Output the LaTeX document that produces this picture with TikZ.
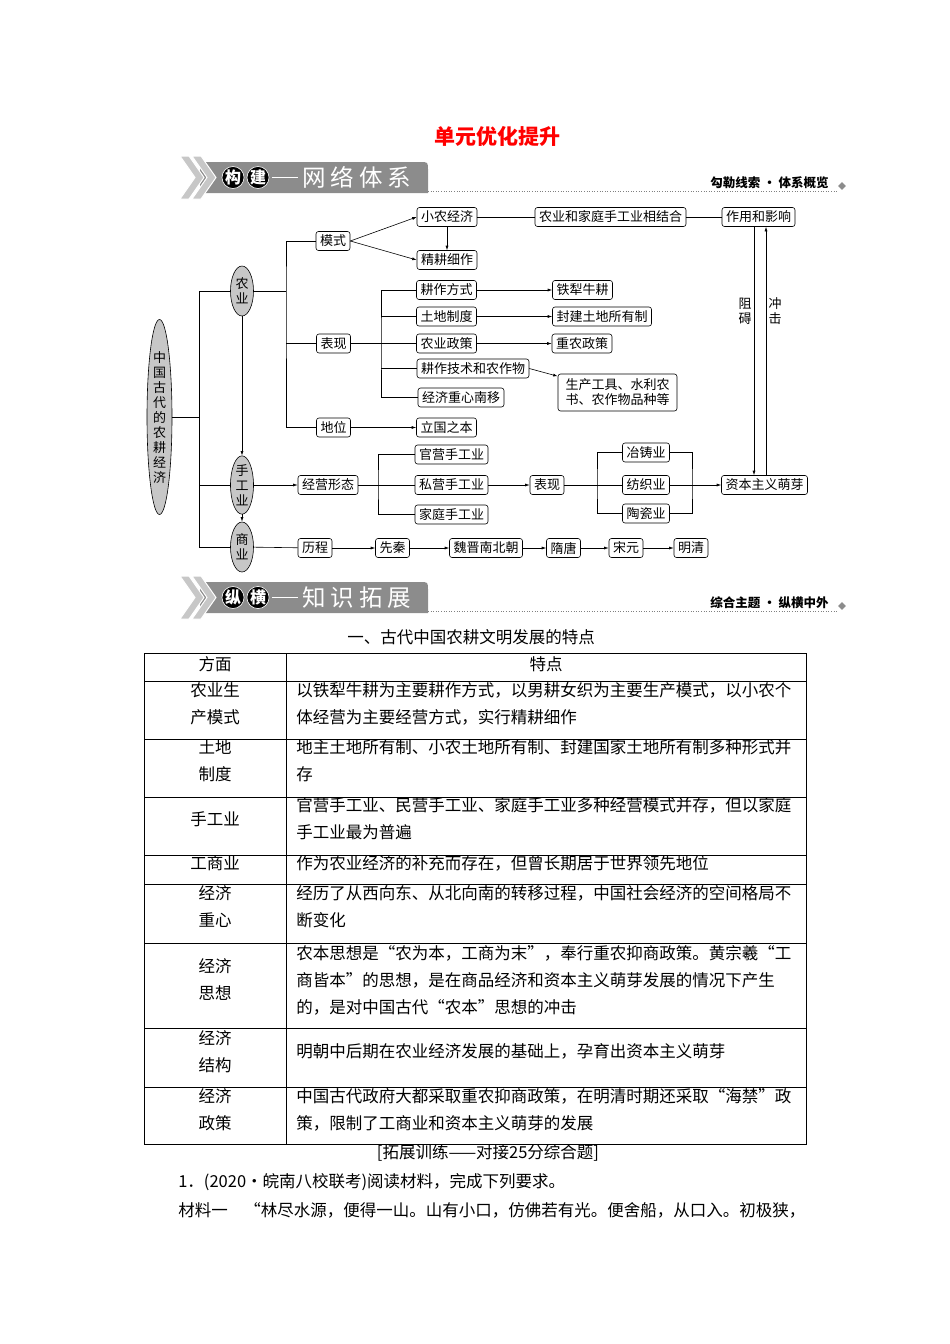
\documentclass[tikz,border=0pt]{standalone}
\usepackage{fontspec}
\setmainfont{Noto Sans CJK SC}
\usetikzlibrary{arrows.meta,shapes.geometric}

\newcommand\dfont{\fontsize{13}{15}\selectfont}
\newcommand\tfont{\fontsize{16.5}{27}\selectfont}

\begin{document}
\begin{tikzpicture}[x=1pt,y=-1pt,line width=.6pt,
  box/.style={draw,rounded corners=2.5pt,font=\dfont,inner xsep=4pt,inner ysep=0pt,minimum height=19pt},
  oval/.style={ellipse,draw,fill=black!22,font=\dfont,align=center,inner sep=0pt,minimum width=23pt},
  arr/.style={-{Latex[length=4.5pt,width=3pt]}},
  lbl/.style={font=\dfont,align=center,inner sep=0pt},
  cell/.style={font=\tfont,align=center,inner sep=0pt},
  celltxt/.style={font=\tfont,align=left,anchor=west,inner sep=0pt},
  hdrgray/.style={fill=black!45}]
\useasboundingbox (0,0) rectangle (950,1344);

\node[font=\bfseries\fontsize{21}{21}\selectfont,text=red] (title) at (497,136) {单元优化提升};

% header bars
\foreach \y/\ca/\cb/\ttl/\rt in {162/构/建/网\hspace{5pt}络\hspace{5pt}体\hspace{5pt}系/勾勒线索\ ·\ 体系概览,
                                  582/纵/横/知\hspace{5pt}识\hspace{5pt}拓\hspace{5pt}展/综合主题\ ·\ 纵横中外}{
  \fill[hdrgray] (200,\y) -- (420,\y) .. controls (428,\y) .. (428,\y+8) -- (428,\y+31) -- (200,\y+31) -- cycle;
  \foreach \cx in {180,192}
    \filldraw[fill=black!22,draw=white,line width=1pt] (\cx,\y-6) -- (\cx+9,\y-6) -- (\cx+24,\y+15.5)
      -- (\cx+9,\y+37) -- (\cx,\y+37) -- (\cx+15,\y+15.5) -- cycle;
  \node[circle,fill=black,draw=white,text=white,inner sep=0pt,minimum size=21pt,font=\bfseries\fontsize{16}{16}\selectfont] (ca\y) at (233,\y+15.5) {\ca};
  \node[circle,fill=black,draw=white,text=white,inner sep=0pt,minimum size=21pt,font=\bfseries\fontsize{16}{16}\selectfont] (cb\y) at (258,\y+15.5) {\cb};
  \draw[white,line width=1.2pt] (cb\y.east) ++(3,0) -- ++(26,0);
  \node[anchor=west,text=white,inner sep=0pt,font=\fontsize{23.5}{23.5}\selectfont] (tt\y) at (302,\y+15.5) {\ttl};
  \draw[dotted,black!50] (428,\y+29) -- (838,\y+29);
  \node[anchor=east,inner sep=0pt,font=\bfseries\fontsize{12.5}{13}\selectfont] (rt\y) at (829,\y+21) {\rt};
  \node[diamond,fill=black!45,inner sep=0pt,minimum size=8pt] (dm\y) at (842,\y+24) {};
}

% mind map
\node[oval,minimum width=25pt,minimum height=195pt,inner sep=1pt] (root) at (159.5,417) {中\\国\\古\\代\\的\\农\\耕\\经\\济};
\node[oval,minimum height=50pt] (nong) at (242,291) {农\\业};
\node[oval,minimum height=56pt] (shou) at (242,485) {手\\工\\业};
\node[oval,minimum height=50pt] (shang) at (242,547) {商\\业};

\node[box] (moshi) at (333,241) {模式};
\node[box] (xiaonong) at (447,217) {小农经济};
\node[box] (jinggeng) at (447,260) {精耕细作};
\node[box,minimum width=151pt] (jiehe) at (610.5,217) {农业和家庭手工业相结合};
\node[box] (zuoyong) at (758.5,217) {作用和影响};

\node[box] (biaoxian) at (333.5,343.5) {表现};
\node[box] (gengzuo) at (446.5,290) {耕作方式};
\node[box] (tudi) at (446.5,316.5) {土地制度};
\node[box] (zhengce) at (446.5,343.5) {农业政策};
\node[box,minimum width=112pt] (jishu) at (473,368.5) {耕作技术和农作物};
\node[box] (zhongxin) at (461,397.5) {经济重心南移};
\node[box] (tieli) at (582.5,290) {铁犁牛耕};
\node[box] (fengjian) at (602,316.5) {封建土地所有制};
\node[box] (zhongnong) at (582,343.5) {重农政策};
\node[box,minimum width=119pt,minimum height=37pt,align=left] (gongju) at (617.5,392.5) {生产工具、水利农\\书、农作物品种等};
\node[box] (diwei) at (333.5,427.5) {地位};
\node[box] (liguo) at (446.5,427.5) {立国之本};

\node[box] (jingying) at (328,485) {经营形态};
\node[box] (guanying) at (451.5,454.5) {官营手工业};
\node[box] (siying) at (451.5,485) {私营手工业};
\node[box] (jiating) at (451.5,514.5) {家庭手工业};
\node[box] (biaoxian2) at (547,485) {表现};
\node[box] (yezhu) at (646,452.5) {冶铸业};
\node[box] (fangzhi) at (646,485) {纺织业};
\node[box] (taoci) at (646,513.5) {陶瓷业};
\node[box] (ziben) at (764.5,485) {资本主义萌芽};

\node[box] (licheng) at (315,548) {历程};
\node[box] (xianqin) at (392.5,548) {先秦};
\node[box] (weijin) at (486,548) {魏晋南北朝};
\node[box] (suitang) at (563.5,548) {隋唐};
\node[box] (songyuan) at (626,548) {宋元};
\node[box] (mingqing) at (691,548) {明清};

\node[lbl] (zuai) at (745,311) {阻\\碍};
\node[lbl] (chongji) at (775,311) {冲\\击};

\coordinate (tr) at (199,417);
\coordinate (nb) at (286,291);
\coordinate (bx) at (381,343.5);
\coordinate (jx) at (378,485);
\coordinate (lx) at (597,485);
\coordinate (rx) at (692,485);
\coordinate (zu) at (754,0);
\coordinate (ch) at (766,0);

% trunk
\draw (root) -- (tr);
\draw (nong) -- (nong -| tr) |- (shang);
\draw (shou) -- (shou -| tr);
\draw[arr] (nong) -- (shou);
\draw[arr] (shou) -- (shang);

% agriculture
\draw (nong) -- (nb);
\draw (moshi) -| (nb) |- (diwei);
\draw (biaoxian) -- (biaoxian -| nb);
\draw[arr] (moshi.east) -- (xiaonong.west);
\draw[arr] (moshi.east) -- (jinggeng.west);
\draw[arr] (xiaonong) -- (jinggeng);
\draw (xiaonong) -- (jiehe);
\draw (jiehe) -- (zuoyong);
\draw[arr] (zuoyong.south -| zu) -- (ziben.north -| zu);
\draw[arr] (ziben.north -| ch) -- (zuoyong.south -| ch);
\draw (biaoxian) -- (zhengce);
\draw (gengzuo) -| (bx) |- (zhongxin);
\draw (tudi) -- (tudi -| bx);
\draw (jishu) -- (jishu -| bx);
\foreach \a/\b in {gengzuo/tieli,tudi/fengjian,zhengce/zhongnong,diwei/liguo}
  \draw[arr] (\a) -- (\b);
\draw[arr] (jishu.east) -- (gongju);

% handicraft
\draw[arr] (shou) -- (jingying);
\draw (jingying) -- (siying);
\draw (guanying) -| (jx) |- (jiating);
\draw[arr] (siying) -- (biaoxian2);
\draw (biaoxian2) -- (fangzhi);
\draw (yezhu) -| (lx) |- (taoci);
\draw (yezhu) -| (rx) |- (taoci);
\draw[arr] (fangzhi) -- (ziben);

% commerce
\draw (shang) -- (licheng);
\foreach \a/\b in {licheng/xianqin,xianqin/weijin,weijin/suitang,suitang/songyuan,songyuan/mingqing}
  \draw[arr] (\a) -- (\b);

% table
\node[font=\tfont] (sub) at (471,637) {一、古代中国农耕文明发展的特点};
\draw[line width=.8pt] (144,653) rectangle (806,1144);
\draw (286,653) -- (286,1144);
\foreach \yy in {681,739,797,855,884,943,1028,1087}
  \draw (144,\yy) -- (806,\yy);

\node[cell] (fm) at (215,664) {方面};
\node[cell] (td) at (546,664) {特点};
\node[cell] (l1) at (215,703.5) {农业生\\产模式};
\node[celltxt] (r1) at (296,703.5) {以铁犁牛耕为主要耕作方式，以男耕女织为主要生产模式，以小农个\\体经营为主要经营方式，实行精耕细作};
\node[cell] (l2) at (215,761) {土地\\制度};
\node[celltxt] (r2) at (296,761) {地主土地所有制、小农土地所有制、封建国家土地所有制多种形式并\\存};
\node[cell] (l3) at (215,819) {手工业};
\node[celltxt] (r3) at (296,819) {官营手工业、民营手工业、家庭手工业多种经营模式并存，但以家庭\\手工业最为普遍};
\node[cell] (l4) at (215,863) {工商业};
\node[celltxt] (r4) at (296,863) {作为农业经济的补充而存在，但曾长期居于世界领先地位};
\node[cell] (l5) at (215,907) {经济\\重心};
\node[celltxt] (r5) at (296,907) {经历了从西向东、从北向南的转移过程，中国社会经济的空间格局不\\断变化};
\node[cell] (l6) at (215,980) {经济\\思想};
\node[celltxt] (r6) at (296,980) {农本思想是“农为本，工商为末”，奉行重农抑商政策。黄宗羲“工\\商皆本”的思想，是在商品经济和资本主义萌芽发展的情况下产生\\的，是对中国古代“农本”思想的冲击};
\node[cell] (l7) at (215,1051.5) {经济\\结构};
\node[celltxt] (r7) at (296,1051.5) {明朝中后期在农业经济发展的基础上，孕育出资本主义萌芽};
\node[cell] (l8) at (215,1109.5) {经济\\政策};
\node[celltxt] (r8) at (296,1109.5) {中国古代政府大都采取重农抑商政策，在明清时期还采取“海禁”政\\策，限制了工商业和资本主义萌芽的发展};

\node[font=\tfont] (train) at (488,1153) {[拓展训练——对接25分综合题]};
\node[celltxt] (q1) at (178,1182) {1．(2020·皖南八校联考)阅读材料，完成下列要求。};
\node[celltxt] (m1) at (178,1210) {材料一　“林尽水源，便得一山。山有小口，仿佛若有光。便舍船，从口入。初极狭，};
\end{tikzpicture}
\end{document}
